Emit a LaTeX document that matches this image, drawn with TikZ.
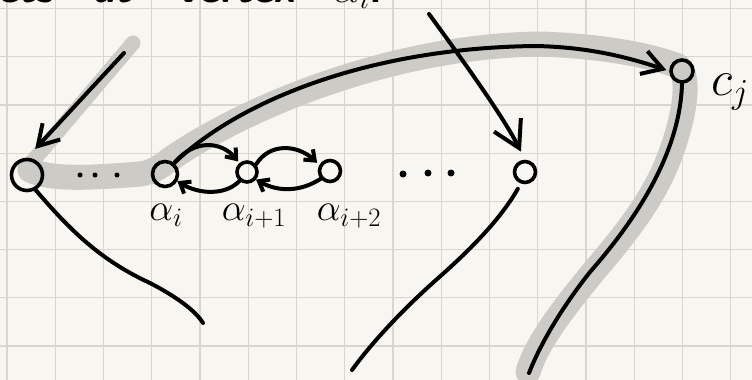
\RequirePackage{fix-cm}
\documentclass[tikz,border=0pt]{standalone}
\usetikzlibrary{arrows.meta}
\definecolor{paper}{HTML}{F8F6F1}
\definecolor{gridc}{HTML}{DAD6CF}
\definecolor{hl}{HTML}{CDCBC6}
\begin{document}
\begin{tikzpicture}[x=1pt,y=-1pt,
  ink/.style={line width=4pt,line cap=round,line join=round},
  vtx/.style={draw,circle,line width=3.6pt,inner sep=0pt},
  hlpath/.style={hl,line cap=round,line join=round},
  bigtip/.style={-{Straight Barb[length=20pt,width=24pt]}},
  tipB/.style={-{Straight Barb[length=26pt,width=30pt]}},
  smalltip/.style={-{Straight Barb[length=9pt,width=14pt]}},
  dotn/.style={circle,fill,inner sep=0pt},
  lbl/.style={inner sep=0pt},
  topword/.style={inner sep=0pt,anchor=base west,font=\fontsize{42}{44}\selectfont\sffamily\bfseries}]
\useasboundingbox (0,0) rectangle (752,380);
\fill[paper] (0,0) rectangle (752,380);
\foreach \i in {0,...,15} \draw[gridc,line width=1.2pt] ({7+48.25*\i},0) -- ({7+48.25*\i},380);
\foreach \j in {0,...,7} \draw[gridc,line width=1.2pt] (0,{8.5+48.2*\j}) -- (752,{8.5+48.2*\j});
% highlighted path
\draw[hlpath,line width=15pt] (133,43) -- (32,162);
\draw[hlpath,line width=25pt] (30,170) .. controls (50,180) and (90,178) .. (140,174) .. controls (155,172) and (162,165) .. (172,158) .. controls (245,108) and (390,46) .. (540,44) .. controls (600,46) and (650,55) .. (678,66) .. controls (690,75) and (686,110) .. (672,150) .. controls (655,200) and (620,240) .. (595,270) .. controls (560,312) and (536,345) .. (528,372);
% top text (cut off at the top edge, as in the reference)
\node[topword] (t1) at (-2,2) {ets};
\node[topword] (t2) at (93,2) {at};
\node[topword] (t3) at (178,2) {vertex};
\node[topword] (t4) at (333,2) {$\alpha_i$.};
% vertices
\node[vtx,minimum size=31pt] (A) at (27,175) {};
\node[vtx,minimum size=25pt] (ai) at (165,174) {};
\node[vtx,minimum size=20pt] (ai1) at (247,172) {};
\node[vtx,minimum size=21pt] (ai2) at (330,171) {};
\node[vtx,minimum size=21pt] (B) at (525,172) {};
\node[vtx,minimum size=22pt] (cj) at (682,71) {};
% dots
\node[dotn,minimum size=5pt] (d1) at (80,175) {};
\node[dotn,minimum size=5pt] (d2) at (95,175) {};
\node[dotn,minimum size=5pt] (d3) at (117,175) {};
\node[dotn,minimum size=7pt] (d4) at (403,174) {};
\node[dotn,minimum size=7pt] (d5) at (428,173) {};
\node[dotn,minimum size=7pt] (d6) at (451,173) {};
% labels
\node[lbl,font=\fontsize{38}{40}\selectfont] (lai) at (166,215) {$\alpha_i$};
\node[lbl,font=\fontsize{38}{40}\selectfont] (lai1) at (254,216) {$\alpha_{i+1}$};
\node[lbl,font=\fontsize{38}{40}\selectfont] (lai2) at (349,216) {$\alpha_{i+2}$};
\node[lbl,font=\fontsize{50}{52}\selectfont] (lcj) at (730,92) {$c_j$};
% free ends
\coordinate (s1) at (124,53);
\coordinate (s2) at (429,14);
\coordinate (e1) at (203,323);
\coordinate (e2) at (352,370);
\coordinate (e3) at (529,373);
% connectors
\draw[ink,bigtip,shorten >=12pt] (s1) -- (A.north);
\draw[ink,tipB,shorten >=9pt] (s2) .. controls (470,70) and (505,120) .. (B.north);
\draw[ink,bigtip,shorten >=3pt] (ai.50) .. controls (240,100) and (370,48) .. (535,46) .. controls (590,47) and (630,58) .. (cj.west);
\draw[ink] (cj.south) .. controls (680,150) and (640,215) .. (590,272) .. controls (560,310) and (540,345) .. (e3);
\draw[ink] (A.-60) .. controls (70,230) and (100,260) .. (150,283) .. controls (175,296) and (195,310) .. (e1);
\draw[ink,shorten <=6pt] (B.-110) .. controls (500,220) and (470,250) .. (436,280) .. controls (400,312) and (370,345) .. (e2);
\draw[ink,smalltip,shorten >=2pt] (ai.50) .. controls (195,138) and (222,142) .. (ai1.130);
\draw[ink,smalltip] (ai1.-130) .. controls (225,196) and (198,194) .. (ai.-30);
\draw[ink,smalltip,shorten >=3pt] (ai1.40) .. controls (270,142) and (298,145) .. (ai2.150);
\draw[ink,smalltip] (ai2.-140) .. controls (300,192) and (278,192) .. (ai1.-40);
\end{tikzpicture}
\end{document}
